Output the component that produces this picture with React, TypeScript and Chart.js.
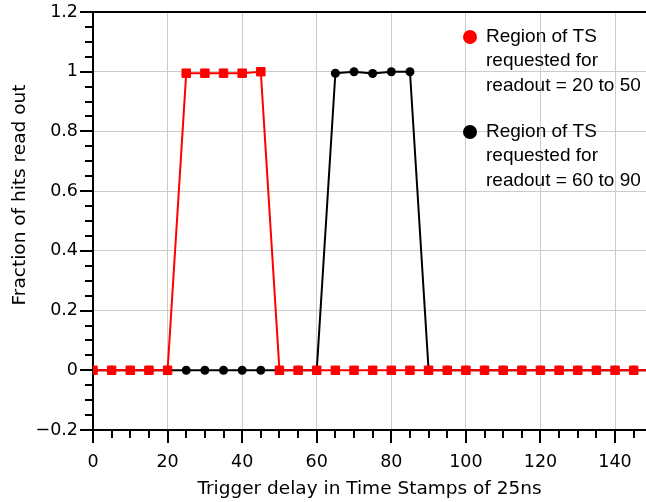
import React, { useEffect, useRef } from 'react';
import { Chart, registerables } from 'chart.js';

Chart.register(...registerables);

// ---- data ----
const xValues = [0, 5, 10, 15, 20, 25, 30, 35, 40, 45, 50, 55, 60, 65, 70, 75, 80, 85, 90, 95, 100, 105, 110, 115, 120, 125, 130, 135, 140, 145, 150];
const redValues = [0, 0, 0, 0, 0, 0.995, 0.995, 0.995, 0.995, 1.0, 0, 0, 0, 0, 0, 0, 0, 0, 0, 0, 0, 0, 0, 0, 0, 0, 0, 0, 0, 0, 0];
const blackValues = [0, 0, 0, 0, 0, 0, 0, 0, 0, 0, 0, 0, 0, 0.995, 1.0, 0.994, 1.0, 1.0, 0, 0, 0, 0, 0, 0, 0, 0, 0, 0, 0, 0, 0];

const legendLabels = [
  ['Region of TS', 'requested for', 'readout = 20 to 50'],
  ['Region of TS', 'requested for', 'readout = 60 to 90'],
];
const legendColors = ['#ff0000', '#000000'];

const xTitle = 'Trigger delay in Time Stamps of 25ns';
const yTitle = 'Fraction of hits read out';

const X_MIN = 0;
const X_MAX = 148.3;
const Y_MIN = -0.2;
const Y_MAX = 1.2;

const fmtY = (v: number) => {
  const r = Math.round(v * 10) / 10;
  if (Math.abs(r) < 1e-9) return '0';
  const s = String(Math.abs(r));
  return r < 0 ? '\u2212' + s : s;
};

const decorPlugin = {
  id: 'decor',
  afterDraw(chart: any) {
    const { ctx, chartArea } = chart;
    const { left, right, top, bottom } = chartArea;
    const xs = chart.scales.x;
    const ys = chart.scales.y;
    ctx.save();
    ctx.strokeStyle = '#000';
    ctx.lineWidth = 2;
    // top frame line
    ctx.beginPath();
    ctx.moveTo(left - 1, top);
    ctx.lineTo(right, top);
    ctx.stroke();
    // x tick marks
    for (let i = 0; i * 5 <= 145; i++) {
      const v = i * 5;
      const px = Math.round(xs.getPixelForValue(v));
      const len = v % 20 === 0 ? 13 : 8;
      ctx.beginPath();
      ctx.moveTo(px, bottom);
      ctx.lineTo(px, bottom + len);
      ctx.stroke();
    }
    // y tick marks
    for (let i = 0; i <= 28; i++) {
      const v = -0.2 + i * 0.05;
      const py = Math.round(ys.getPixelForValue(v));
      const len = i % 4 === 0 ? 13 : 8;
      ctx.beginPath();
      ctx.moveTo(left, py);
      ctx.lineTo(left - len, py);
      ctx.stroke();
    }
    // y title
    ctx.fillStyle = '#000';
    ctx.font = '18.5px "DejaVu Sans"';
    ctx.textAlign = 'center';
    ctx.textBaseline = 'middle';
    ctx.translate(20, 195);
    ctx.rotate(-Math.PI / 2);
    ctx.fillText(yTitle, 0, 0);
    ctx.restore();

    // legend
    ctx.save();
    ctx.font = '19px "Liberation Sans", Arial, sans-serif';
    ctx.textAlign = 'left';
    ctx.textBaseline = 'alphabetic';
    const blockTops = [42, 137];
    legendLabels.forEach((lines, k) => {
      const base = blockTops[k];
      ctx.fillStyle = legendColors[k];
      ctx.beginPath();
      ctx.arc(470, base - 5, 7, 0, Math.PI * 2);
      ctx.fill();
      ctx.fillStyle = '#000';
      lines.forEach((t, j) => {
        ctx.fillText(t, 486, base + j * 24.3);
      });
    });
    ctx.restore();
  },
};

export default function App() {
  const ref = useRef<HTMLCanvasElement | null>(null);
  useEffect(() => {
    if (!ref.current) return;
    Chart.defaults.font.family = '"DejaVu Sans"';
    const chart = new Chart(ref.current, {
      type: 'line',
      data: {
        datasets: [
          {
            label: 'Region of TS requested for readout = 20 to 50',
            data: xValues.map((x, i) => ({ x, y: redValues[i] })),
            borderColor: '#ff0000',
            backgroundColor: '#ff0000',
            borderWidth: 2,
            pointStyle: 'rect',
            pointRadius: 6,
            pointBorderWidth: 1,
            pointBackgroundColor: '#ff0000',
            pointBorderColor: '#ff0000',
            tension: 0,
          },
          {
            label: 'Region of TS requested for readout = 60 to 90',
            data: xValues.map((x, i) => ({ x, y: blackValues[i] })),
            borderColor: '#000000',
            backgroundColor: '#000000',
            borderWidth: 2,
            pointStyle: 'circle',
            pointRadius: 4.5,
            pointBorderWidth: 0,
            pointBackgroundColor: '#000000',
            tension: 0,
          },
        ],
      },
      options: {
        responsive: false,
        animation: false,
        layout: { autoPadding: false, padding: { top: 12, right: 0, left: 0, bottom: 0 } },
        plugins: { legend: { display: false }, tooltip: { enabled: false } },
        scales: {
          x: {
            type: 'linear',
            min: X_MIN,
            max: X_MAX,
            afterFit: (s: any) => { s.height = 72; },
            ticks: {
              stepSize: 20,
              includeBounds: false,
              color: '#000',
              font: { size: 17.5 },
              padding: 0,
              maxRotation: 0,
            },
            grid: { color: '#cccccc', lineWidth: 1, drawTicks: true, tickLength: 22, tickColor: 'rgba(0,0,0,0)' },
            border: { display: true, color: '#000', width: 2 },
            title: {
              display: true,
              text: xTitle,
              color: '#000',
              font: { size: 18.5 },
              padding: { top: 0, bottom: 2 },
            },
          },
          y: {
            type: 'linear',
            min: Y_MIN,
            max: Y_MAX,
            afterFit: (s: any) => { s.width = 93; },
            ticks: {
              stepSize: 0.2,
              color: '#000',
              font: { size: 17.5 },
              padding: 0,
              callback: (v: any) => fmtY(Number(v)),
            },
            grid: { color: '#cccccc', lineWidth: 1, drawTicks: true, tickLength: 15, tickColor: 'rgba(0,0,0,0)' },
            border: { display: true, color: '#000', width: 2 },
          },
        },
      },
      plugins: [decorPlugin],
    } as any);
    return () => chart.destroy();
  }, []);
  return (
    <div style={{ position: 'fixed', left: 0, top: 0, width: 646, height: 502, background: '#fff' }}>
      <canvas ref={ref} width={646} height={502} style={{ width: 646, height: 502, display: 'block' }} />
    </div>
  );
}
